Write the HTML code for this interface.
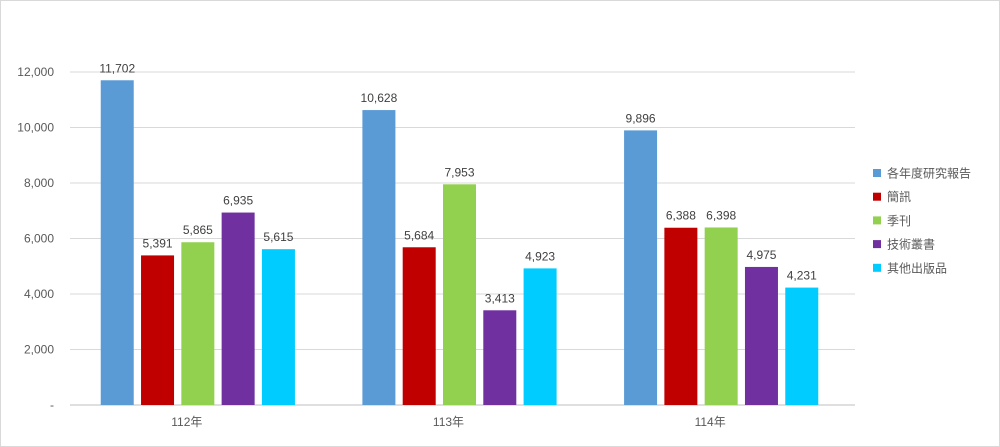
<!DOCTYPE html>
<html><head><meta charset="utf-8"><style>
body{margin:0;background:#fff;}
svg{display:block;font-family:"Liberation Sans","Noto Sans CJK TC",sans-serif;}
</style></head><body>
<svg id="chart" width="1000" height="447">
<rect x="0.5" y="0.5" width="999" height="446" fill="#fff" stroke="#d9d9d9"/>
<g id="grid"></g><g id="bars"></g><g id="labels"></g><g id="legend"></g>
</svg>
<script>
const categories=["112年","113年","114年"];
const seriesNames=["各年度研究報告","簡訊","季刊","技術叢書","其他出版品"];
const colors=["#5b9bd5","#c00000","#92d050","#7030a0","#00ccff"];
const s0=[11702,10628,9896];
const s1=[5391,5684,6388];
const s2=[5865,7953,6398];
const s3=[6935,3413,4975];
const s4=[5615,4923,4231];
const series=[s0,s1,s2,s3,s4];
const ticks=[0,2000,4000,6000,8000,10000,12000];
const ns="http://www.w3.org/2000/svg";
const x0=67,x1=852,y0=405,yTop=72,maxV=12000;
const y=v=>y0-(v/maxV)*(y0-yTop);
const gw=(x1-x0)/categories.length;
const bw=33,step=40.3;
const fmt=v=>v.toLocaleString("en-US");
function mk(t,a,p){const e=document.createElementNS(ns,t);for(const k in a)e.setAttribute(k,a[k]);p.appendChild(e);return e;}
const G=document.getElementById("grid"),B=document.getElementById("bars"),L=document.getElementById("labels"),LG=document.getElementById("legend");
ticks.forEach(t=>{
 const l=mk("line",{x1:70,x2:855,y1:y(t),y2:y(t),stroke:t===0?"#bfbfbf":"#d9d9d9","stroke-width":1},G);
 
 
 const tx=mk("text",{x:54,y:y(t)+4,"text-anchor":"end","font-size":12,fill:"#595959"},G);
 tx.textContent=t===0?"-":fmt(t);
 
 
});
categories.forEach((c,i)=>{
 const cx=x0+gw*(i+0.5);
 const tx=mk("text",{x:cx-11,y:426,"text-anchor":"middle","font-size":12,fill:"#595959"},L);
 tx.textContent=c;
 
 
 series.forEach((s,j)=>{
  const bx=cx-2*step-bw/2+j*step;
  const r=mk("rect",{x:bx,y:y(s[i]),width:bw,height:y0-y(s[i]),fill:colors[j]},B);
  
  
  const v=mk("text",{x:bx+bw/2,y:y(s[i])-8,"text-anchor":"middle","font-size":12,fill:"#404040"},L);
  v.textContent=fmt(s[i]);
  
  
 });
});
seriesNames.forEach((n,j)=>{
 const ly=173+j*23.7;
 const r=mk("rect",{x:873,y:ly-4,width:8,height:8,fill:colors[j]},LG);
 
 
 const t=mk("text",{x:887,y:ly+4.5,"font-size":12,fill:"#595959"},LG);
 t.textContent=n;
 
 
});
</script>
</body></html>
